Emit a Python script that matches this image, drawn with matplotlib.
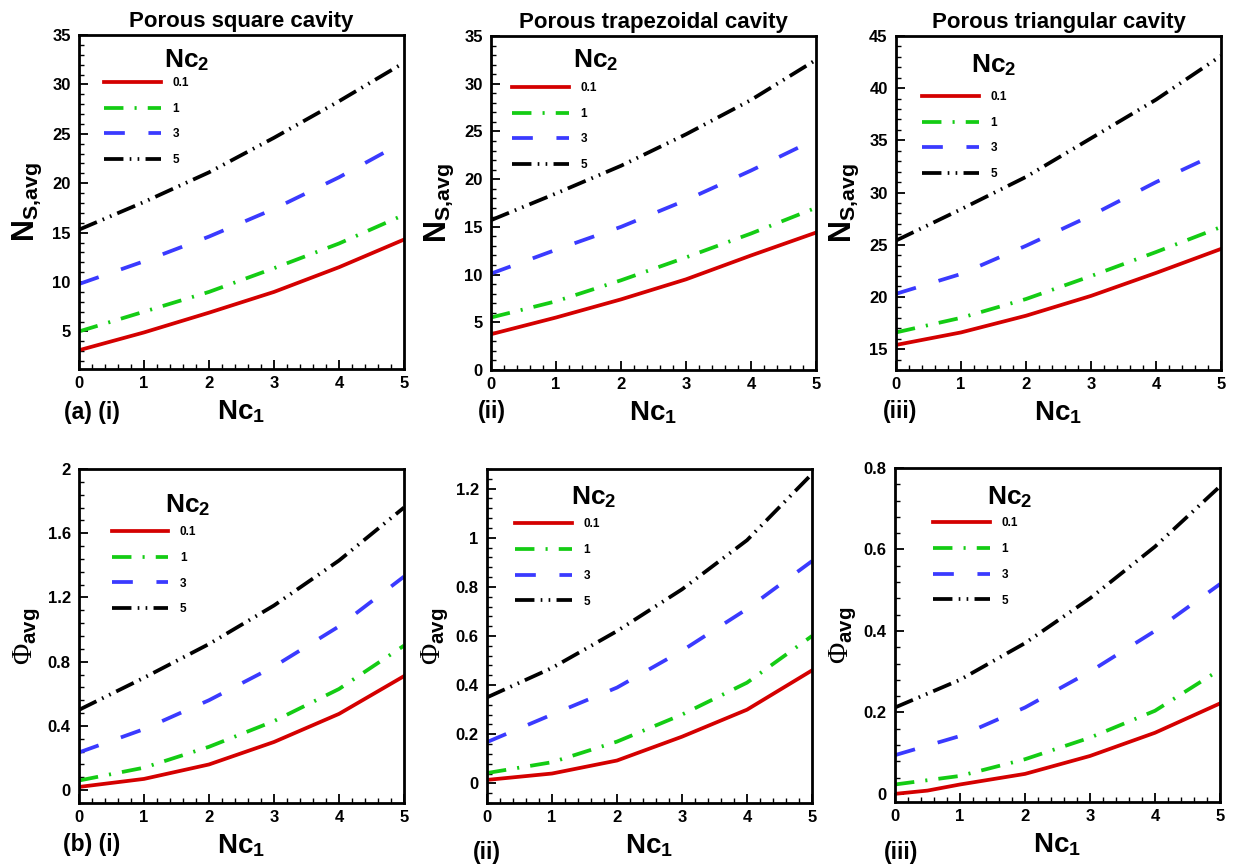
import matplotlib
matplotlib.use('Agg')
import matplotlib.pyplot as plt
from matplotlib.ticker import MultipleLocator, FuncFormatter

plt.rcParams['font.family'] = ['Liberation Sans', 'DejaVu Sans']
plt.rcParams['font.weight'] = 'bold'
plt.rcParams['mathtext.fontset'] = 'custom'
plt.rcParams['mathtext.rm'] = 'Liberation Serif:regular'
plt.rcParams['mathtext.it'] = 'Liberation Serif:italic'
plt.rcParams['mathtext.bf'] = 'Liberation Sans:bold'
plt.rcParams['mathtext.sf'] = 'Liberation Sans:bold'
plt.rcParams['lines.scale_dashes'] = False

# Nc1 values where curves were read
nc1 = [0, 1, 2, 3, 4, 5]
nc1_tri_red = [0, 0.5, 1, 2, 3, 4, 5]
nc2_labels = ['0.1', '1', '3', '5']

# N_S,avg  (rows: Nc2 = 0.1, 1, 3, 5)
ns_square = [
    [3.1, 4.9, 6.9, 9.0, 11.5, 14.3],
    [5.0, 7.0, 9.0, 11.4, 13.9, 16.8],
    [9.8, 12.1, 14.6, 17.4, 20.6, 24.2],
    [15.3, 18.1, 21.1, 24.6, 28.3, 32.2],
]
ns_trap = [
    [3.75, 5.5, 7.4, 9.5, 12.0, 14.4],
    [5.5, 7.2, 9.4, 11.8, 14.3, 17.0],
    [10.1, 12.6, 15.0, 17.8, 20.9, 24.2],
    [15.7, 18.5, 21.4, 24.7, 28.3, 32.5],
]
ns_tri = [
    [15.4, 16.6, 18.2, 20.1, 22.3, 24.6],
    [16.6, 18.0, 19.8, 22.0, 24.3, 26.7],
    [20.3, 22.2, 24.9, 27.8, 31.0, 33.9],
    [25.4, 28.4, 31.5, 35.2, 38.9, 43.1],
]

# Phi_avg
phi_square = [
    [0.02, 0.07, 0.16, 0.30, 0.475, 0.71],
    [0.06, 0.14, 0.27, 0.43, 0.63, 0.90],
    [0.235, 0.38, 0.56, 0.77, 1.02, 1.33],
    [0.50, 0.70, 0.91, 1.15, 1.43, 1.76],
]
phi_trap = [
    [0.014, 0.04, 0.093, 0.19, 0.30, 0.46],
    [0.042, 0.086, 0.17, 0.28, 0.41, 0.60],
    [0.168, 0.28, 0.39, 0.54, 0.71, 0.905],
    [0.35, 0.47, 0.62, 0.79, 0.99, 1.26],
]
phi_tri = [
    [0.0, 0.008, 0.023, 0.049, 0.093, 0.15, 0.222],
    [0.023, 0.044, 0.085, 0.138, 0.204, 0.305],
    [0.095, 0.142, 0.212, 0.30, 0.40, 0.515],
    [0.212, 0.28, 0.37, 0.48, 0.607, 0.755],
]

titles = ['Porous square cavity', 'Porous trapezoidal cavity', 'Porous triangular cavity']
tags = ['(a) (i)', '(ii)', '(iii)', '(b) (i)', '(ii)', '(iii)']

styles = [
    dict(color='#d40000', linestyle='-'),
    dict(color='#14cc14', linestyle=(0, (14, 8, 1.5, 8))),
    dict(color='#3a3aff', linestyle=(0, (15, 17))),
    dict(color='black', linestyle=(0, (14, 4.5, 1.2, 4.5, 1.2, 4.5))),
]

fig = plt.figure(figsize=(12.34, 8.64), dpi=100)

W, H = 1234, 864
def add_ax(left, top, w=325, h=334):
    return fig.add_axes([left / W, 1 - (top + h) / H, w / W, h / H])

panels = [
    dict(pos=(79, 35), data=ns_square, ylim=(1.2, 35), major=5, minor=1,
         leg=(0.077, 0.862), ttl=(0.332, 0.925), tag=(-0.045, -0.13), yl='ns'),
    dict(pos=(491, 36), data=ns_trap, ylim=(0, 35), major=5, minor=1,
         leg=(0.065, 0.85), ttl=(0.323, 0.928), tag=(-0.04, -0.125), yl='ns'),
    dict(pos=(896, 36), data=ns_tri, ylim=(13, 45), major=5, minor=1,
         leg=(0.08, 0.823), ttl=(0.30, 0.913), tag=(-0.04, -0.125), yl='ns'),
    dict(pos=(79, 469), data=phi_square, ylim=(-0.08, 2), major=0.4, minor=0.08,
         leg=(0.10, 0.817), ttl=(0.335, 0.892), tag=(-0.05, -0.125), yl='phi'),
    dict(pos=(487, 469), data=phi_trap, ylim=(-0.08, 1.28), major=0.2, minor=0.04,
         leg=(0.086, 0.84), ttl=(0.327, 0.916), tag=(-0.043, -0.148), yl='phi'),
    dict(pos=(895, 468), data=phi_tri, ylim=(-0.02, 0.8), major=0.2, minor=0.04,
         leg=(0.117, 0.84), ttl=(0.353, 0.913), tag=(-0.035, -0.15), yl='phi'),
]

fmt = FuncFormatter(lambda v, p: '%g' % round(v, 6))

for i, p in enumerate(panels):
    ax = add_ax(*p['pos'])
    for j, series in enumerate(p['data']):
        xs = nc1_tri_red if (i == 5 and j == 0) else nc1
        ax.plot(xs, series, lw=2.7, dash_capstyle='butt', label=nc2_labels[j], **styles[j])

    ax.set_xlim(0, 5)
    ax.set_ylim(*p['ylim'])
    ax.xaxis.set_major_locator(MultipleLocator(1))
    ax.xaxis.set_minor_locator(MultipleLocator(0.2))
    ax.yaxis.set_major_locator(MultipleLocator(p['major']))
    ax.yaxis.set_minor_locator(MultipleLocator(p['minor']))
    ax.yaxis.set_major_formatter(fmt)
    ax.tick_params(which='both', direction='in', top=False, right=False, labelsize=12)
    ax.tick_params(which='major', length=6.5, width=1.3)
    ax.tick_params(which='minor', length=3.5, width=1.0)
    ax.tick_params(axis='x', pad=5)
    ax.tick_params(axis='y', pad=6)
    for lab in ax.get_xticklabels() + ax.get_yticklabels():
        lab.set_fontweight('bold')
    for s in ax.spines.values():
        s.set_linewidth(2)

    ax.set_xlabel(r'$\mathbf{Nc}_{\mathbf{1}}$', fontsize=20, labelpad=5)
    if p['yl'] == 'ns':
        ax.set_ylabel(r'$\mathbf{N}_{\mathbf{S{,}avg}}$', fontsize=22, labelpad=6)
    else:
        ax.set_ylabel(r'$\Phi_{\mathbf{avg}}$', fontsize=21, labelpad=4)

    if i < 3:
        ax.set_title(titles[i], fontsize=16, fontweight='bold', pad=6)

    lx, ly = p['leg']
    ax.legend(loc='upper left', bbox_to_anchor=(lx, ly + 0.012), frameon=False,
              fontsize=8.5, handlelength=4.8, handletextpad=1.0, labelspacing=1.16,
              borderpad=0, borderaxespad=0)
    tx, ty = p['ttl']
    ax.text(tx, ty, r'$\mathbf{Nc}_{\mathbf{2}}$', transform=ax.transAxes,
            fontsize=19, ha='center', va='center')

    gx, gy = p['tag']
    ax.text(gx, gy, tags[i], transform=ax.transAxes, fontsize=16.5,
            fontweight='bold', ha='left', va='center')

fig.savefig('out.png', dpi=100)
